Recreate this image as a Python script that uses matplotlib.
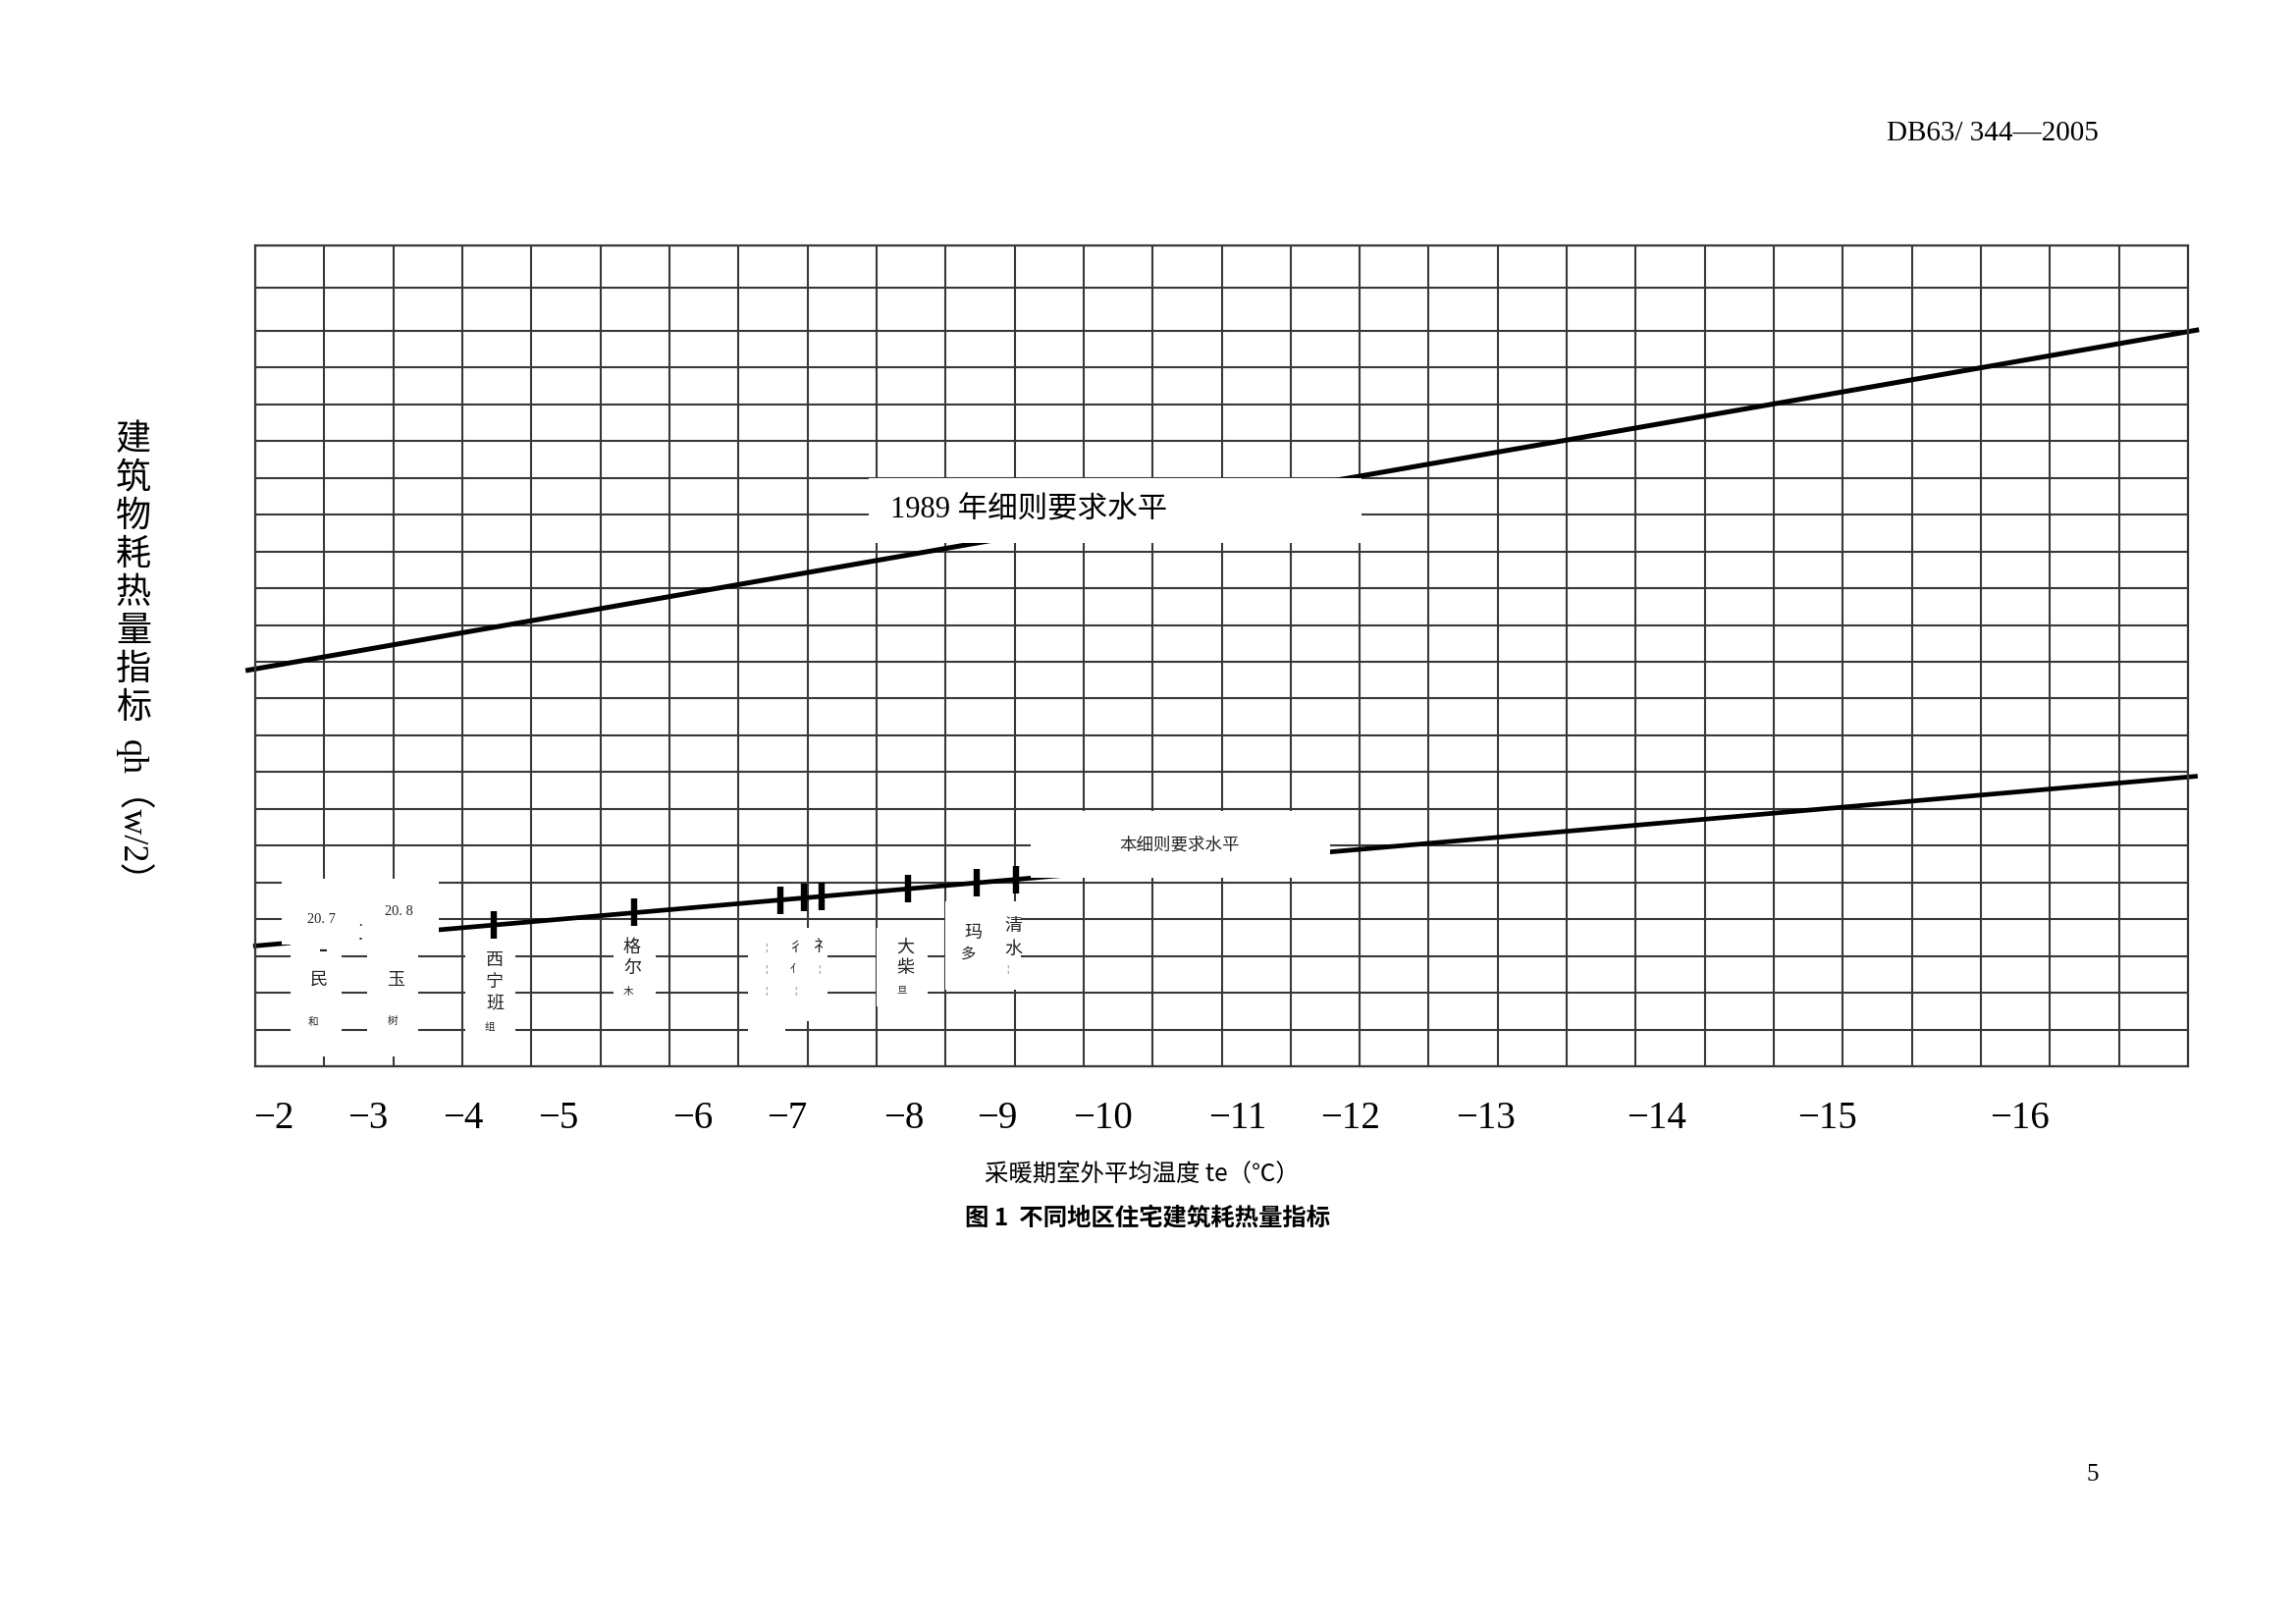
import matplotlib.pyplot as plt
import matplotlib.patches as mpatches
import numpy as np

W, H = 2339, 1654
SERIF = ['Liberation Serif', 'Noto Sans CJK SC']
CJK = ['Noto Sans CJK SC', 'DejaVu Sans']

# x axis: heating-season mean outdoor temperature, label positions in grid columns
te_labels = ["−2", "−3", "−4", "−5", "−6", "−7", "−8", "−9", "−10",
             "−11", "−12", "−13", "−14", "−15", "−16"]
te_pos = [0.26, 1.63, 3.01, 4.39, 6.34, 7.70, 9.39, 10.75, 12.28,
          14.23, 15.87, 17.82, 20.30, 22.78, 25.56]

# the two requirement levels (grid units)
level_1989_x = [-0.14, 28.16]
level_1989_y = [10.76, 20.03]
level_now_x = [-0.03, 28.14]
level_now_y = [3.27, 7.89]

# stations marked on the current level
station_x = [3.46, 5.49, 7.61, 7.95, 8.21, 9.46, 10.45, 11.02]
station_y = [3.84, 4.18, 4.52, 4.58, 4.62, 4.83, 4.99, 5.08]

# grid
n_cols = 28
row_lines = list(range(21)) + [21.17, 22.32]

# axes box in page pixels
AX_L, AX_R, AX_T, AX_B = 260, 2229, 250, 1086


def fx(px):
    return px / W


def fy(py):
    return 1 - py / H


def dx(px):
    return (px - AX_L) / ((AX_R - AX_L) / n_cols)


def dy(py):
    return (AX_B - py) / ((AX_B - AX_T - 2 * 43.3) / 20)


fig = plt.figure(figsize=(W / 200, H / 200), dpi=200)
fig.patch.set_facecolor('white')
ax = fig.add_axes([fx(AX_L), fy(AX_B), fx(AX_R) - fx(AX_L), fy(AX_T) - fy(AX_B)])
ax.set_xlim(0, n_cols)
ax.set_ylim(0, row_lines[-1])

grid_kw = dict(color='#383838', lw=0.75, zorder=1)
for c in np.arange(n_cols + 1):
    ax.axvline(c, **grid_kw)
for r in row_lines:
    ax.axhline(r, **grid_kw)
for s in ax.spines.values():
    s.set_color('#383838')
    s.set_linewidth(0.8)

ax.plot(level_1989_x, level_1989_y, color='black', lw=1.8, zorder=2, clip_on=False,
        solid_capstyle='butt')
ax.plot(level_now_x, level_now_y, color='black', lw=1.7, zorder=2, clip_on=False,
        solid_capstyle='butt')

# white label areas that cut the grid (page pixels: x0, x1, top, bottom)
boxes = [
    (885, 1387, 487, 553),
    (1050, 1355, 826, 894),
    (287, 447, 895, 962),
    (296, 348, 962, 1076),
    (374, 426, 962, 1076),
    (474, 525, 955, 1076),
    (625, 668, 950, 1030),
    (762, 843, 945, 1040),
    (762, 800, 1040, 1065),
    (893, 945, 945, 1025),
    (963, 1040, 918, 1008),
]
for x0, x1, t, b in boxes:
    ax.add_patch(mpatches.Rectangle((dx(x0), dy(b)), dx(x1) - dx(x0), dy(t) - dy(b),
                                    facecolor='white', edgecolor='none', zorder=3,
                                    clip_on=False))

ax.plot(station_x, station_y, ls='none', marker='|', ms=10, mew=2.3,
        color='black', zorder=4)

ax.set_xticks(te_pos, te_labels)
ax.tick_params(axis='x', length=0, pad=12.5, labelsize=14)
for lab in ax.get_xticklabels():
    lab.set_fontfamily(SERIF)
ax.set_yticks([])

# level labels
fig.text(fx(907), fy(519), "1989 年细则要求水平", family=SERIF, fontsize=11,
         ha='left', va='center')
fig.text(fx(1202), fy(861), "本细则要求水平", family=CJK, fontsize=6.3,
         ha='center', va='center', color='#222222')

# station labels: (x, y, text, size) in page pixels
station_text = [
    (327, 937, "20. 7", 5.2), (406, 929, "20. 8", 5.2),
    (330, 968, "▬", 2.5), (367, 944, "·", 6), (367, 955, "▪", 3),
    (325, 998, "民", 6.5), (319, 1041, "和", 3.8),
    (403, 998, "玉", 6.5), (400, 1040, "树", 3.8),
    (504, 979, "西", 6.5), (504, 1001, "宁", 6.5), (504, 1023, "班", 6.5),
    (499, 1046, "组", 3.8),
    (644, 965, "格", 6.5), (644, 987, "尔", 6.5), (640, 1010, "木", 3.8),
    (780, 965, "¦", 4), (780, 987, "¦", 4), (780, 1010, "¦", 4),
    (810, 965, "彳", 5), (810, 987, "亻", 4), (810, 1010, "¦", 4),
    (836, 965, "礻", 6), (834, 987, "¦", 4),
    (922, 965, "大", 6.5), (922, 987, "柴", 6.5), (919, 1010, "旦", 3.8),
    (991, 950, "玛", 6.5), (986, 972, "多", 5.5),
    (1032, 943, "清", 6.5), (1032, 967, "水", 6.5), (1026, 988, "¦", 4),
]
for px, py, t, size in station_text:
    fig.text(fx(px), fy(py), t, family=SERIF, fontsize=size, ha='center',
             va='center', color='#222222', zorder=6)

# y label: stacked characters, then rotated unit
for i, ch in enumerate("建筑物耗热量指标"):
    fig.text(fx(136), fy(448 + i * 39), ch, family=CJK, fontsize=13,
             ha='center', va='center')
fig.text(fx(136), fy(753), "qh（w/2）", family=SERIF, fontsize=13, rotation=-90,
         rotation_mode='anchor', ha='left', va='center')

fig.text(fx(1163), fy(1196), "采暖期室外平均温度 te（℃）", family=CJK, fontsize=8.8,
         ha='center', va='center')
fig.text(fx(1169), fy(1240), "图 1  不同地区住宅建筑耗热量指标", family=CJK,
         fontsize=8.8, fontweight='bold', ha='center', va='center')

fig.text(fx(2138), fy(136), "DB63/ 344—2005", family=SERIF, fontsize=10.5,
         ha='right', va='center')
fig.text(fx(2132), fy(1502), "5", family=SERIF, fontsize=9, ha='center', va='center')

fig.savefig("out.png", dpi=200)
